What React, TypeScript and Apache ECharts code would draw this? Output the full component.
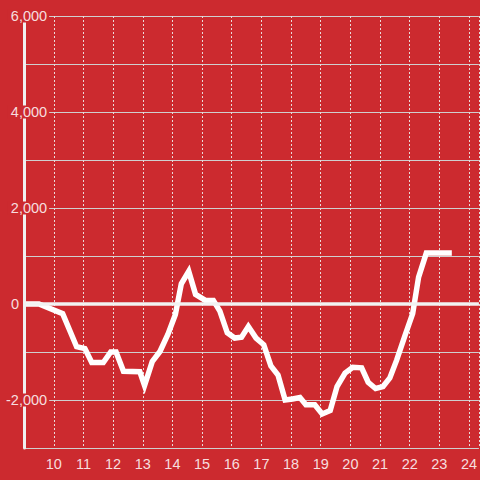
import React, { useEffect, useRef } from "react";
import * as echarts from "echarts";

// Hour of day (x) and value (y)
const hours: number[] = [9, 9.5, 10.3, 10.77, 11.05, 11.28, 11.67, 11.92, 12.1, 12.35, 12.9, 13.06, 13.32, 13.58, 13.85, 14.1, 14.3, 14.55, 14.78, 15.1, 15.38, 15.6, 15.85, 16.1, 16.33, 16.56, 16.82, 17.08, 17.32, 17.56, 17.8, 18.05, 18.3, 18.5, 18.8, 19.05, 19.32, 19.55, 19.82, 20.08, 20.38, 20.6, 20.85, 21.1, 21.33, 21.56, 21.84, 22.1, 22.3, 22.56, 23.42];
const values: number[] = [0, 0, -200, -890, -930, -1220, -1220, -1000, -1000, -1400, -1410, -1700, -1200, -990, -630, -220, 420, 680, 200, 80, 75, -150, -600, -710, -690, -470, -710, -850, -1290, -1480, -2000, -1980, -1950, -2100, -2100, -2290, -2220, -1720, -1440, -1320, -1330, -1630, -1760, -1720, -1540, -1170, -660, -200, 560, 1060, 1060];

const xTickMin = 9;
const xTickMax = 24.3333;
const yMin = -3000;
const yMax = 6000;
const yInterval = 1000;

const BG = "#cc2a2f";
const LABEL = "rgba(255,255,255,0.86)";
const FONT = "Liberation Sans, Arial, sans-serif";

export default function App() {
  const ref = useRef<HTMLDivElement>(null);
  useEffect(() => {
    if (!ref.current) return;
    const chart = echarts.init(ref.current, undefined, { renderer: "svg" });
    const data = hours.map((h, i) => [h, values[i]]);
    chart.setOption({
      animation: false,
      backgroundColor: BG,
      grid: { left: 20, right: 0, top: 16, bottom: 32, containLabel: false },
      xAxis: {
        type: "value",
        min: xTickMin,
        max: xTickMax,
        interval: 1,
        axisLine: { show: true, lineStyle: { color: "#cfcfcf", width: 1 } },
        axisTick: { show: false },
        axisLabel: {
          color: LABEL,
          fontSize: 14.5,
          fontFamily: FONT,
          margin: 8,
          showMinLabel: false,
          showMaxLabel: false,
        },
        splitLine: { show: true, lineStyle: { color: "#eadada", width: 1, type: [2, 2] } },
      },
      yAxis: [
        {
          type: "value",
          min: yMin,
          max: yMax,
          interval: yInterval,
          position: "left",
          z: 0,
          axisLine: { show: false },
          axisTick: { show: false },
          axisLabel: { show: false },
          splitLine: { show: true, lineStyle: { color: "#cfcfcf", width: 1 } },
        },
        {
          type: "value",
          min: yMin,
          max: yMax,
          interval: yInterval,
          position: "left",
          offset: 0,
          z: 5,
          axisLine: { show: true, onZero: false, lineStyle: { color: "#f0f0f0", width: 3 } },
          axisTick: { show: false },
          splitLine: { show: false },
          axisLabel: {
            color: LABEL,
            fontSize: 14.5,
            fontFamily: FONT,
            margin: -25,
            backgroundColor: BG,
            padding: [0, 2, 0, 3],
            lineHeight: 13,
            formatter: (v: number) =>
              v !== 0 && v % 2000 === 0 ? v.toLocaleString("en-US") : "",
          },
        },
      ],
      series: [
        {
          type: "line",
          data,
          yAxisIndex: 0,
          showSymbol: false,
          symbol: "none",
          lineStyle: { color: "#ffffff", width: 5.5, cap: "butt", join: "miter" },
          markLine: {
            silent: true,
            symbol: "none",
            lineStyle: { color: "#f2f2f2", width: 3.5, type: "solid" },
            label: {
              show: true,
              position: "start",
              distance: 5,
              formatter: "0",
              color: LABEL,
              fontSize: 14.5,
              fontFamily: FONT,
            },
            data: [{ yAxis: 0 }],
          },
        },
      ],
    });
    return () => chart.dispose();
  }, []);
  return (
    <div
      ref={ref}
      style={{ position: "fixed", left: 0, top: 0, width: 480, height: 480 }}
    />
  );
}
